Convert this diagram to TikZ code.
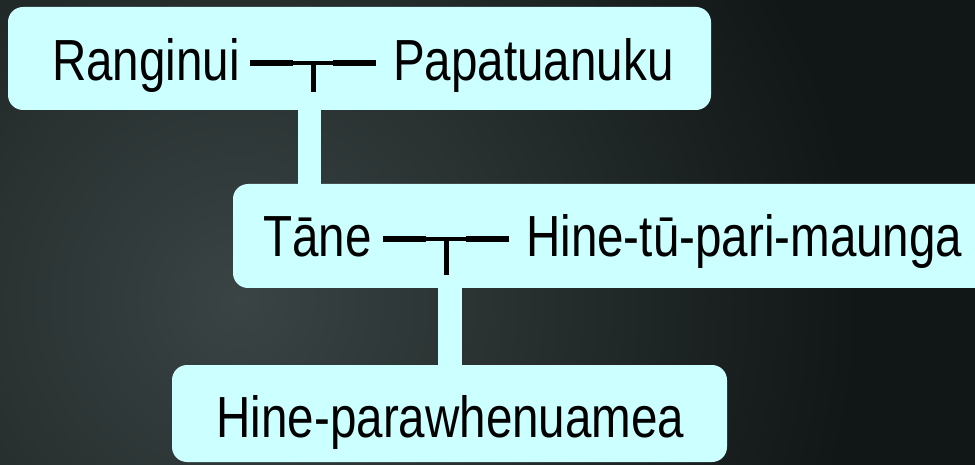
\documentclass[tikz,border=0pt]{standalone}
\usepackage{fontspec}
\setmainfont[FakeStretch=0.82]{Liberation Sans}
\definecolor{boxc}{HTML}{CCFFFF}
\definecolor{bgdark}{HTML}{111616}
\definecolor{bglight}{HTML}{3A4444}
\begin{document}
\begin{tikzpicture}[x=1pt,y=-1pt,
  box/.style={fill=boxc, draw=none, rounded corners=15pt, rectangle, inner sep=0pt},
  lbl/.style={font=\fontsize{58}{60}\selectfont, inner sep=0pt, anchor=base west, text=black},
  lblc/.style={font=\fontsize{58}{60}\selectfont, inner sep=0pt, anchor=base, text=black},
  bar/.style={draw=boxc, line cap=butt},
  mthick/.style={line width=6.5pt, black},
  mthin/.style={line width=4.5pt, black}]
\useasboundingbox (0,0) rectangle (975,465);
% background
\begin{scope}
\clip (0,0) rectangle (975,465);
\fill[bgdark] (0,0) rectangle (975,465);
\shade[inner color=bglight, outer color=bgdark] (240,300) circle (620);
\end{scope}
% boxes
\node[box, minimum width=703pt, minimum height=103pt] (b1) at (359.5,58.5) {};
\node[box, minimum width=767pt, minimum height=104pt] (b2) at (616.5,236) {};
\node[box, minimum width=555pt, minimum height=97pt] (b3) at (449.5,413.5) {};
% connector anchors
\coordinate (c1) at (309.5,0);
\coordinate (c2) at (450,0);
\draw[bar, line width=23pt] (c1 |- b1.south) -- (c1 |- b2.north);
\draw[bar, line width=24pt] (c2 |- b2.south) -- (c2 |- b3.north);
% texts
\node[lbl] (t1) at (52,81) {Ranginui};
\node[lbl] (t2) at (393,81) {Papatuanuku};
\node[lbl] (t3) at (263,257) {Tāne};
\node[lbl] (t4) at (526,257) {Hine-tū-pari-maunga};
\node[lblc] (t5) at (450.5,437) {Hine-parawhenuamea};
% marriage symbol 1
\coordinate (m1l) at (250,63);
\coordinate (m1a) at (293,63);
\coordinate (m1b) at (333,63);
\coordinate (m1r) at (376,63);
\coordinate (m1d) at (313,92);
\draw[mthick] (m1l) -- (m1a);
\draw[mthin] (m1a) -- (m1b);
\draw[mthick] (m1b) -- (m1r);
\draw[line width=5pt, black] (m1d |- m1l) -- (m1d);
% marriage symbol 2
\coordinate (m2l) at (383,239);
\coordinate (m2a) at (426,239);
\coordinate (m2b) at (466,239);
\coordinate (m2r) at (509,239);
\coordinate (m2d) at (446,275);
\draw[mthick] (m2l) -- (m2a);
\draw[mthin] (m2a) -- (m2b);
\draw[mthick] (m2b) -- (m2r);
\draw[line width=5pt, black] (m2d |- m2l) -- (m2d);
\end{tikzpicture}
\end{document}
